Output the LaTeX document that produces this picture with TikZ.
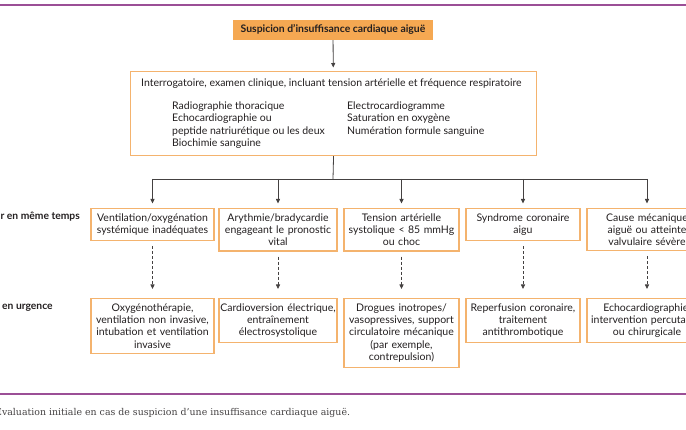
\documentclass[tikz,border=0pt]{standalone}
\usepackage{fontspec}
\setmainfont{Lato}
\newfontfamily\capfont{DejaVu Serif}
\usepackage{tikz}
\usetikzlibrary{arrows.meta, positioning}
\definecolor{orfill}{HTML}{F5A852}
\definecolor{orline}{HTML}{F4B36E}
\definecolor{purp}{HTML}{9B4F96}
\definecolor{ink}{HTML}{231F20}

\begin{document}
\begin{tikzpicture}[x=1pt, y=-1pt,
  box/.style={draw=orline, line width=1.1pt, align=center, anchor=north,
              font=\fontsize{10.5}{12.3}\selectfont, text=ink,
              inner xsep=1pt, inner ysep=5pt},
  txt/.style={inner sep=0pt, align=left, font=\fontsize{10.5}{12.3}\selectfont, text=ink},
  lbl/.style={inner sep=0pt, font=\fontsize{10.3}{11}\selectfont\bfseries, text=ink},
  wire/.style={draw=ink!85, line width=0.8pt},
  arrow/.style={wire, -{Triangle[length=4.5pt, width=4pt]}},
  dasharrow/.style={arrow, densely dashed, shorten <=5pt, shorten >=9pt}]

  \useasboundingbox (0,0) rectangle (686,430);

  % rules of the page
  \draw[purp, line width=2pt] (0,5) -- (686,5);
  \draw[purp, line width=2pt] (0,394) -- (686,394);

  % start
  \node[box, fill=orfill, draw=none, minimum width=200pt, minimum height=20pt,
        inner ysep=0pt, font=\fontsize{10.4}{11}\selectfont\bfseries] (susp) at (333,19)
        {Suspicion d’insuffisance cardiaque aiguë};

  % first assessment
  \node[box, anchor=north west, minimum width=406pt, minimum height=84pt] (exam) at (130,71) {};
  \node[txt, anchor=west] (hist) at (141,84)
        {Interrogatoire, examen clinique, incluant tension artérielle et fréquence respiratoire};
  \node[txt, anchor=north west] (testsA) at (172,101.5)
        {Radiographie thoracique\\Echocardiographie ou\\peptide natriurétique ou les deux\\Biochimie sanguine};
  \node[txt, anchor=north west] (testsB) at (347,101.5)
        {Electrocardiogramme\\Saturation en oxygène\\Numération formule sanguine};

  % row labels
  \node[lbl, anchor=east] (simul) at (80,217) {r en même temps};
  \node[lbl, anchor=west] (urg) at (2,308) {en urgence};

  % conditions
  \node[box, text width=121pt] (c1) at (152.5,208) {Ventilation/oxygénation\\systémique inadéquates};
  \node[box, text width=116pt] (c2) at (278,208) {Arythmie/bradycardie\\engageant le pronostic\\vital};
  \node[box, text width=113pt] (c3) at (401.5,208) {Tension artérielle\\systolique < 85 mmHg\\ou choc};
  \node[box, text width=112pt] (c4) at (523,208) {Syndrome coronaire\\aigu};
  \node[box, text width=118pt] (c5) at (647,208) {Cause mécanique\\aiguë ou atteinte\\valvulaire sévère};

  % treatments
  \node[box, text width=121pt] (t1) at (152.5,298) {Oxygénothérapie,\\ventilation non invasive,\\intubation et ventilation\\invasive};
  \node[box, text width=116pt] (t2) at (278,298) {Cardioversion électrique,\\entraînement\\électrosystolique};
  \node[box, text width=113pt] (t3) at (401.5,298) {Drogues inotropes/\\vasopressives, support\\circulatoire mécanique\\(par exemple,\\contrepulsion)};
  \node[box, text width=112pt] (t4) at (523,298) {Reperfusion coronaire,\\traitement\\antithrombotique};
  \node[box, text width=118pt] (t5) at (647,298) {Echocardiographie,\\intervention percutanée\\ou chirurgicale};

  % caption
  \node[anchor=west, inner sep=0pt, font=\capfont\fontsize{9.4}{11}\selectfont, text=ink!85] (cap) at (-5,412)
        {Évaluation initiale en cas de suspicion d’une insuffisance cardiaque aiguë.};

  % connectors
  \coordinate (bus) at (333,179);
  \draw[arrow, shorten >=3.5pt] (susp) -- (exam);
  \draw[wire] (exam.south) -- (bus);
  \draw[wire] (bus -| c1) -- (bus -| c5);
  \foreach \i in {1,...,5} {
    \draw[arrow, shorten >=4.5pt] (bus -| c\i) -- (c\i.north);
    \draw[dasharrow] (c\i.south) -- (t\i.north);
  }
\end{tikzpicture}
\end{document}
